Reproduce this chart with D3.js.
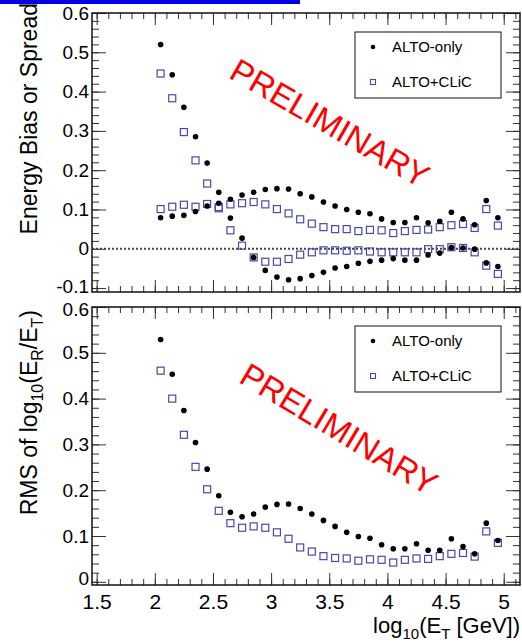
<!DOCTYPE html>
<html>
<head>
<meta charset="utf-8">
<script src="https://cdn.jsdelivr.net/npm/d3@7"></script>
<style>
body{margin:0;background:#fff;}
svg{display:block;font-family:"Liberation Sans",Arial,sans-serif;}
</style>
</head>
<body>
<script>
// bin centres, log10(E_T [GeV])
const logE = [2.05,2.15,2.25,2.35,2.45,2.55,2.65,2.75,2.85,2.95,3.05,3.15,3.25,3.35,3.45,
              3.55,3.65,3.75,3.85,3.95,4.05,4.15,4.25,4.35,4.45,4.55,4.65,4.75,4.85,4.95];

// top panel: spread and bias
const altoSpread = [0.520,0.443,0.360,0.285,0.218,0.144,0.126,0.137,0.144,0.151,0.153,0.152,0.140,0.132,0.119,
                    0.109,0.100,0.093,0.089,0.076,0.067,0.067,0.079,0.066,0.070,0.093,0.076,0.061,0.123,0.079];
const altoBias   = [0.079,0.083,0.085,0.095,0.109,0.116,0.078,0.027,-0.022,-0.055,-0.072,-0.079,-0.076,-0.068,-0.060,
                    -0.049,-0.045,-0.037,-0.032,-0.029,-0.025,-0.029,-0.029,-0.016,-0.011,0.003,0.002,-0.001,-0.036,-0.045];
const clicSpread = [0.446,0.383,0.297,0.225,0.166,0.106,0.113,0.116,0.119,0.113,0.101,0.090,0.075,0.064,0.055,
                    0.050,0.050,0.045,0.048,0.047,0.040,0.045,0.048,0.049,0.055,0.060,0.063,0.053,0.101,0.059];
const clicBias   = [0.101,0.107,0.112,0.107,0.114,0.103,0.047,0.008,-0.022,-0.033,-0.033,-0.026,-0.015,-0.009,-0.004,
                    -0.004,-0.005,-0.004,-0.007,-0.009,-0.009,-0.009,-0.009,-0.001,-0.001,0.004,0.002,-0.009,-0.043,-0.064];

// bottom panel: RMS of log10(E_R/E_T)
const altoRms = [0.529,0.453,0.374,0.304,0.246,0.188,0.152,0.142,0.148,0.163,0.169,0.170,0.160,0.148,0.134,
                 0.121,0.108,0.099,0.095,0.081,0.072,0.072,0.083,0.069,0.069,0.094,0.077,0.061,0.128,0.090];
const clicRms = [0.461,0.400,0.321,0.251,0.202,0.155,0.128,0.118,0.121,0.118,0.108,0.094,0.075,0.066,0.056,
                 0.052,0.051,0.046,0.049,0.048,0.042,0.048,0.051,0.050,0.056,0.061,0.063,0.055,0.110,0.085];

const legendNames = ["ALTO-only", "ALTO+CLiC"];
const xTicks = [1.5, 2, 2.5, 3, 3.5, 4, 4.5, 5];
const xTickLabels = ["1.5","2","2.5","3","3.5","4","4.5","5"];
const yTicksTop = [-0.1, 0, 0.1, 0.2, 0.3, 0.4, 0.5, 0.6];
const yTickLabelsTop = ["-0.1","0","0.1","0.2","0.3","0.4","0.5","0.6"];
const yTicksBottom = [0, 0.1, 0.2, 0.3, 0.4, 0.5, 0.6];
const yTickLabelsBottom = ["0","0.1","0.2","0.3","0.4","0.5","0.6"];

const width = 522;
const height = 643;
const left = 92;
const right = 520;
const squareColor = "#4848b0";

const x = d3.scaleLinear([1.46, 5.14], [left, right]);
const yTop = d3.scaleLinear([-0.11, 0.6], [292, 13]);
const yBot = d3.scaleLinear([-0.007, 0.6], [585, 307]);

const svg = d3.create("svg")
  .attr("width", width)
  .attr("height", height);

svg.append("rect").attr("width", width).attr("height", height).attr("fill", "#fff");

// blue bar at the very top (slide decoration)
svg.append("rect").attr("x", 0).attr("y", 0).attr("width", 300).attr("height", 4).attr("fill", "#0000e6");

function ticks(g){
  g.select(".domain").remove();
  g.selectAll(".tick line").attr("stroke", "#333").attr("stroke-width", 1);
}

// nudges: {tick value: y offset} for labels that would touch the neighbouring texts
function drawPanel(y, yTicks, yLabels, showXLabels, nudges){
  const [y0, y1] = y.range();
  const g = svg.append("g");
  const minorY = d3.range(Math.ceil(y.domain()[0] / 0.02) * 0.02, y.domain()[1] + 1e-9, 0.02);
  const minorX = d3.range(1.5, 5.14, 0.1);

  // left axis
  g.append("g").attr("transform", `translate(${left},0)`)
    .call(d3.axisLeft(y).tickValues(minorY).tickSize(-7).tickFormat(""))
    .call(ticks);
  g.append("g").attr("transform", `translate(${left},0)`)
    .call(d3.axisLeft(y).tickValues(yTicks).tickSize(-14).tickPadding(3).tickFormat((d, i) => yLabels[i]))
    .call(ticks)
    .call(a => a.selectAll("text").attr("font-size", 19).attr("fill", "#000")
      .attr("font-family", "Liberation Sans, Arial, sans-serif")
      .attr("y", d => nudges[d] || 0));
  // right axis
  g.append("g").attr("transform", `translate(${right},0)`)
    .call(d3.axisRight(y).tickValues(minorY).tickSize(-7).tickFormat(""))
    .call(ticks);
  g.append("g").attr("transform", `translate(${right},0)`)
    .call(d3.axisRight(y).tickValues(yTicks).tickSize(-14).tickFormat(""))
    .call(ticks);
  // top axis
  g.append("g").attr("transform", `translate(0,${y1})`)
    .call(d3.axisTop(x).tickValues(minorX).tickSize(-6).tickFormat(""))
    .call(ticks);
  g.append("g").attr("transform", `translate(0,${y1})`)
    .call(d3.axisTop(x).tickValues(xTicks).tickSize(-12).tickFormat(""))
    .call(ticks);
  // bottom axis
  g.append("g").attr("transform", `translate(0,${y0})`)
    .call(d3.axisBottom(x).tickValues(minorX).tickSize(-6).tickFormat(""))
    .call(ticks);
  g.append("g").attr("transform", `translate(0,${y0})`)
    .call(d3.axisBottom(x).tickValues(xTicks).tickSize(-12).tickPadding(9)
      .tickFormat(showXLabels ? (d, i) => xTickLabels[i] : ""))
    .call(ticks)
    .call(a => a.selectAll("text").attr("font-size", 21).attr("fill", "#000")
      .attr("font-family", "Liberation Sans, Arial, sans-serif"));

  g.append("rect")
    .attr("x", left).attr("y", y1)
    .attr("width", right - left).attr("height", y0 - y1)
    .attr("fill", "none").attr("stroke", "#111").attr("stroke-width", 1.5);
}

function dots(y, values){
  svg.append("g").selectAll("circle")
    .data(values)
    .join("circle")
    .attr("cx", (d, i) => x(logE[i]))
    .attr("cy", d => y(d))
    .attr("r", 2.8)
    .attr("fill", "#000");
}

function squares(y, values){
  svg.append("g").selectAll("rect")
    .data(values)
    .join("rect")
    .attr("x", (d, i) => x(logE[i]) - 3.5)
    .attr("y", d => y(d) - 3.5)
    .attr("width", 7).attr("height", 7)
    .attr("fill", "none")
    .attr("stroke", squareColor)
    .attr("stroke-width", 1.2);
}

function legend(top){
  const g = svg.append("g").attr("transform", `translate(355,${top})`);
  g.append("rect").attr("width", 146).attr("height", 66)
    .attr("fill", "#fff").attr("stroke", "#111").attr("stroke-width", 1);
  g.append("circle").attr("cx", 18).attr("cy", 15).attr("r", 2.3).attr("fill", "#000");
  g.append("rect").attr("x", 15.5).attr("y", 47.5).attr("width", 5).attr("height", 5)
    .attr("fill", "none").attr("stroke", squareColor).attr("stroke-width", 1.1);
  g.selectAll("text").data(legendNames).join("text")
    .attr("x", 37).attr("y", (d, i) => i ? 50 : 15)
    .attr("dy", "0.35em")
    .attr("font-size", 15)
    .text(d => d);
}

function preliminary(cx, cy, angle){
  svg.append("text")
    .attr("transform", `translate(${cx},${cy}) rotate(${angle})`)
    .attr("text-anchor", "middle")
    .attr("dy", "0.35em")
    .attr("font-size", 33)
    .attr("fill", "#ff0000")
    .text("PRELIMINARY");
}

// top panel
drawPanel(yTop, yTicksTop, yTickLabelsTop, false, {"-0.1": -2});
svg.append("line")
  .attr("x1", left).attr("x2", right)
  .attr("y1", yTop(0)).attr("y2", yTop(0))
  .attr("stroke", "#444").attr("stroke-width", 2).attr("stroke-dasharray", "2,2");
preliminary(330, 123, 30);
squares(yTop, clicSpread);
squares(yTop, clicBias);
dots(yTop, altoSpread);
dots(yTop, altoBias);
legend(32);

// bottom panel
drawPanel(yBot, yTicksBottom, yTickLabelsBottom, true, {"0.6": 2, "0": -3});
preliminary(339, 429, 31);
squares(yBot, clicRms);
dots(yBot, altoRms);
legend(326);

// axis titles
svg.append("text")
  .attr("transform", "translate(37,3) rotate(-90)")
  .attr("text-anchor", "end")
  .attr("font-size", 23)
  .text("Energy Bias or Spread");

const yt = svg.append("text")
  .attr("transform", "translate(37,310) rotate(-90)")
  .attr("text-anchor", "end")
  .attr("font-size", 23);
yt.append("tspan").text("RMS of log");
yt.append("tspan").attr("font-size", 16).attr("dy", 6).text("10");
yt.append("tspan").attr("dy", -6).text("(E");
yt.append("tspan").attr("font-size", 16).attr("dy", 6).text("R");
yt.append("tspan").attr("dy", -6).text("/E");
yt.append("tspan").attr("font-size", 16).attr("dy", 6).text("T");
yt.append("tspan").attr("dy", -6).text(")");

const xt = svg.append("text")
  .attr("x", right).attr("y", 633)
  .attr("text-anchor", "end")
  .attr("font-size", 22);
xt.append("tspan").text("log");
xt.append("tspan").attr("font-size", 15).attr("dy", 6).text("10");
xt.append("tspan").attr("dy", -6).text("(E");
xt.append("tspan").attr("font-size", 15).attr("dy", 6).text("T");
xt.append("tspan").attr("dy", -6).text(" [GeV])");

document.body.append(svg.node());
</script>
</body>
</html>
